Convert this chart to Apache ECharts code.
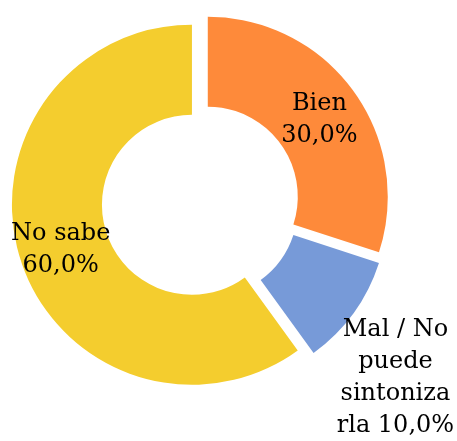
<!DOCTYPE html>
<html>
<head>
<meta charset="utf-8">
<script src="https://cdn.jsdelivr.net/npm/echarts@6/dist/echarts.min.js"></script>
<style>
html,body{margin:0;padding:0;background:#fff;}
#chart{width:457px;height:441px;}
</style>
</head>
<body>
<div id="chart"></div>
<script>
const categories = ['Bien', 'Mal / No puede sintonizarla', 'No sabe'];
const values = [30, 10, 60];
const labelNames = ['Bien', 'Mal / No\npuede\nsintoniza\nrla', 'No sabe'];
const labelJoin = ['\n', ' ', '\n'];
const colors = ['#FE8A3A', '#779AD8', '#F4CD2E'];

const chart = echarts.init(document.getElementById('chart'), null, {renderer: 'canvas'});
const total = values.reduce((a, b) => a + b, 0);
chart.setOption({
  animation: false,
  backgroundColor: '#ffffff',
  series: [{
    type: 'pie',
    center: [200.5, 202],
    radius: [90, 180],
    startAngle: 90,
    clockwise: true,
    selectedMode: 'multiple',
    selectedOffset: 9,
    avoidLabelOverlap: false,
    silent: true,
    label: {
      show: true,
      position: 'inside',
      color: '#000',
      fontFamily: 'DejaVu Serif',
      fontSize: 24,
      lineHeight: 32,
      align: 'center',
      formatter: function (p) {
        const pct = (p.value / total * 100).toFixed(1).replace('.', ',') + '%';
        return labelNames[p.dataIndex] + labelJoin[p.dataIndex] + pct;
      }
    },
    labelLine: {show: false},
    labelLayout: function (p) {
      if (p.dataIndex === 1) return {dx: 76, dy: 89};
      if (p.dataIndex === 0) return {dx: 0, dy: 4};
      return {dx: 0, dy: 2};
    },
    itemStyle: {borderWidth: 0},
    select: {itemStyle: {borderWidth: 0}},
    emphasis: {disabled: true},
    data: categories.map((c, i) => ({
      name: c,
      value: values[i],
      selected: true,
      itemStyle: {color: colors[i]}
    }))
  }]
});
</script>
</body>
</html>
